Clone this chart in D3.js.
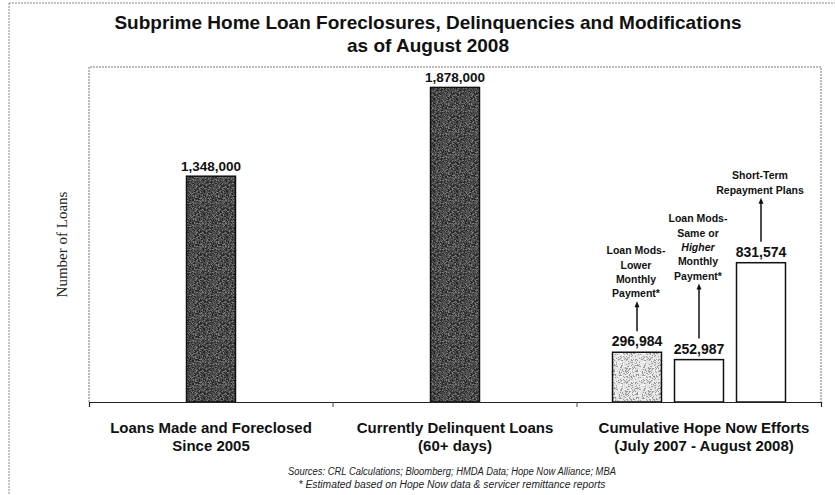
<!DOCTYPE html>
<html>
<head>
<meta charset="utf-8">
<script src="https://cdn.jsdelivr.net/npm/d3@7"></script>
<style>
  body { margin: 0; background: #fff; }
  svg { display: block; }
</style>
</head>
<body>
<svg id="chart" width="835" height="495"></svg>
<script>
// ---- data ----
const categories = [
  ["Loans Made and Foreclosed", "Since 2005"],
  ["Currently Delinquent Loans", "(60+ days)"],
  ["Cumulative Hope Now Efforts", "(July 2007 - August 2008)"]
];
const categoryKeys = ["foreclosed", "delinquent", "hopenow"];
const bars = [
  { group: "foreclosed", sub: 0, nsub: 1, value: 1348000, label: "1,348,000", kind: "dark" },
  { group: "delinquent", sub: 0, nsub: 1, value: 1878000, label: "1,878,000", kind: "dark" },
  { group: "hopenow", sub: 0, nsub: 3, value: 296984, label: "296,984", kind: "stipple" },
  { group: "hopenow", sub: 1, nsub: 3, value: 252987, label: "252,987", kind: "speck" },
  { group: "hopenow", sub: 2, nsub: 3, value: 831574, label: "831,574", kind: "white" }
];
const annotations = [
  { bar: 2, lines: [["Loan Mods-"], ["Lower"], ["Monthly"], ["Payment*"]] },
  { bar: 3, lines: [["Loan Mods-"], ["Same or"], ["Higher", "italic"], ["Monthly"], ["Payment*"]] },
  { bar: 4, lines: [["Short-Term"], ["Repayment Plans"]] }
];
const titleLines = ["Subprime Home Loan Foreclosures, Delinquencies and Modifications", "as of August 2008"];
const yTitle = "Number of Loans";
const sources = [
  "Sources: CRL Calculations; Bloomberg; HMDA Data; Hope Now Alliance; MBA",
  "* Estimated based on Hope Now data & servicer remittance reports"
];
const yMax = 2000000;

// ---- layout ----
const svg = d3.select("#chart");
const plot = { left: 89, right: 821, top: 67, bottom: 402 };

const x0 = d3.scaleBand().domain(categoryKeys).range([plot.left, plot.right]).padding(0);
const x1 = d3.scaleBand().domain([0, 1, 2]).range([-93, 93]).paddingInner(0.21).paddingOuter(0.105);
const y = d3.scaleLinear().domain([0, yMax]).range([plot.bottom, plot.top]);
const bw = x1.bandwidth();

function barX(d) {
  const c = x0(d.group) + x0.bandwidth() / 2;
  if (d.nsub === 1) return c - bw / 2;
  return c + x1(d.sub);
}

// patterns (fine dither texture)
const defs = svg.append("defs");
function noisePattern(id, base, dots, seedStart) {
  const size = 23;
  const p = defs.append("pattern").attr("id", id).attr("patternUnits", "userSpaceOnUse")
    .attr("width", size).attr("height", size);
  p.append("rect").attr("width", size).attr("height", size).attr("fill", base);
  let s = seedStart;
  for (let i = 0; i < size; i++) {
    for (let j = 0; j < size; j++) {
      s = (s * 9301 + 49297) % 233280;
      const r = s / 233280;
      let acc = 0;
      for (const [color, dens] of dots) {
        acc += dens;
        if (r < acc) {
          p.append("rect").attr("x", i).attr("y", j).attr("width", 1).attr("height", 1).attr("fill", color);
          break;
        }
      }
    }
  }
}
noisePattern("darkTex", "#4e4e4e", [["#262626", 0.25], ["#7a7a7a", 0.18]], 7);
noisePattern("stippleTex", "#e2e2e2", [["#9a9a9a", 0.22], ["#f8f8f8", 0.2]], 13);

const fills = { dark: "url(#darkTex)", stipple: "url(#stippleTex)", speck: "#ffffff", white: "#ffffff" };

// outer frame (left + top)
svg.append("line").attr("x1", 9).attr("x2", 9).attr("y1", 3).attr("y2", 495)
  .attr("stroke", "#888").attr("stroke-width", 1).attr("stroke-dasharray", "2,1");
svg.append("line").attr("x1", 9).attr("x2", 835).attr("y1", 3).attr("y2", 3)
  .attr("stroke", "#888").attr("stroke-width", 1).attr("stroke-dasharray", "2,1");

// plot border
svg.append("path")
  .attr("d", `M${plot.left},${plot.bottom}V${plot.top}H${plot.right}V${plot.bottom}`)
  .attr("fill", "none").attr("stroke", "#777").attr("stroke-width", 1).attr("stroke-dasharray", "2,1");

// title
svg.append("g").selectAll("text").data(titleLines).join("text")
  .attr("x", 428).attr("y", (d, i) => 29 + i * 23)
  .attr("text-anchor", "middle")
  .attr("font-family", "Liberation Sans, Arial, sans-serif")
  .attr("font-weight", "bold").attr("font-size", 19).attr("fill", "#111")
  .text(d => d);

// y title
svg.append("text")
  .attr("transform", `translate(67,${(plot.top + plot.bottom) / 2 + 10}) rotate(-90)`)
  .attr("text-anchor", "middle")
  .attr("font-family", "Liberation Serif, Times New Roman, serif")
  .attr("font-size", 15).attr("fill", "#222")
  .text(yTitle);

// bars
svg.append("g").selectAll("rect").data(bars).join("rect")
  .attr("x", d => barX(d))
  .attr("y", d => y(d.value))
  .attr("width", bw)
  .attr("height", d => y(0) - y(d.value))
  .attr("fill", d => fills[d.kind])
  .attr("stroke", "#111").attr("stroke-width", 1.5);

// value labels
svg.append("g").selectAll("text").data(bars).join("text")
  .attr("x", d => barX(d) + bw / 2)
  .attr("y", d => y(d.value) - (d.nsub === 1 ? 5 : 6))
  .attr("text-anchor", "middle")
  .attr("font-family", "Liberation Sans, Arial, sans-serif")
  .attr("font-weight", "bold")
  .attr("font-size", d => d.nsub === 1 ? 13.5 : 14)
  .attr("fill", "#111")
  .text(d => d.label);

// x axis
const xAxis = d3.axisBottom(x0).tickSize(5).tickFormat("");
const gx = svg.append("g").attr("transform", `translate(0,${plot.bottom})`).call(xAxis);
gx.select(".domain").attr("stroke", "#222").attr("stroke-width", 1.2);
gx.selectAll(".tick").remove();
gx.selectAll(".sep").data(categoryKeys.slice(1)).join("line")
  .attr("class", "sep")
  .attr("x1", d => x0(d)).attr("x2", d => x0(d))
  .attr("y1", 0).attr("y2", 5)
  .attr("stroke", "#444").attr("stroke-width", 1);

// category labels
const catG = svg.append("g");
categories.forEach((lines, i) => {
  const cx = x0(categoryKeys[i]) + x0.bandwidth() / 2 + (i === 2 ? 5 : 0);
  lines.forEach((ln, j) => {
    catG.append("text")
      .attr("x", cx).attr("y", 433 + j * 18)
      .attr("text-anchor", "middle")
      .attr("font-family", "Liberation Sans, Arial, sans-serif")
      .attr("font-weight", "bold").attr("font-size", 15).attr("fill", "#111")
      .text(ln);
  });
});

// annotations with arrows
const annG = svg.append("g");
annotations.forEach(a => {
  const b = bars[a.bar];
  const cx = barX(b) + bw / 2;
  const labelTop = y(b.value) - 21;
  const n = a.lines.length;
  const lh = 14.3;
  const arrowLen = a.bar === 2 ? 30 : (a.bar === 3 ? 55 : 44);
  const arrowTop = labelTop - arrowLen;
  const lastBase = arrowTop - 4;
  a.lines.forEach((ln, j) => {
    annG.append("text")
      .attr("x", cx - 1).attr("y", lastBase - (n - 1 - j) * lh)
      .attr("text-anchor", "middle")
      .attr("font-family", "Liberation Sans, Arial, sans-serif")
      .attr("font-weight", "bold").attr("font-size", 10.5)
      .attr("font-style", ln[1] === "italic" ? "italic" : "normal")
      .attr("fill", "#111")
      .text(ln[0]);
  });
  annG.append("line")
    .attr("x1", cx).attr("x2", cx)
    .attr("y1", labelTop).attr("y2", arrowTop + 4)
    .attr("stroke", "#111").attr("stroke-width", 1.5);
  annG.append("path")
    .attr("d", `M${cx},${arrowTop}L${cx - 2.5},${arrowTop + 6}L${cx + 2.5},${arrowTop + 6}Z`)
    .attr("fill", "#111");
});

// sources
svg.append("g").selectAll("text").data(sources).join("text")
  .attr("x", 452)
  .attr("y", (d, i) => 475 + i * 12.5)
  .attr("text-anchor", "middle")
  .attr("font-family", "Liberation Sans, Arial, sans-serif")
  .attr("font-style", "italic").attr("font-size", 10).attr("fill", "#222")
  .attr("textLength", (d, i) => i === 0 ? 328 : 307)
  .attr("lengthAdjust", "spacingAndGlyphs")
  .text(d => d);
</script>
</body>
</html>
